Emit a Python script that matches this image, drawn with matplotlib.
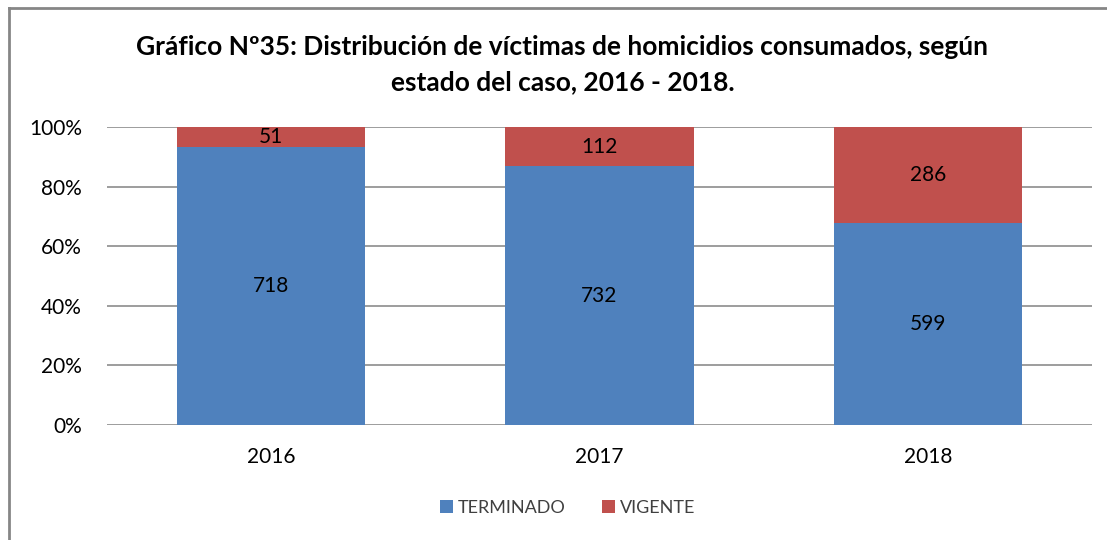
import matplotlib
matplotlib.use("Agg")
import matplotlib.pyplot as plt
import numpy as np

years = ["2016", "2017", "2018"]
terminado = [718, 732, 599]
vigente = [51, 112, 286]

plt.rcParams['font.family'] = ['Lato', 'DejaVu Sans']

tot = np.array(terminado) + np.array(vigente)
p_term = np.array(terminado) / tot * 100
p_vig = np.array(vigente) / tot * 100

fig = plt.figure(figsize=(11.07, 5.4), dpi=100)
ax = fig.add_axes([0.0967, 0.213, 0.8898, 0.552])

x = np.arange(len(years))
w = 0.573
b1 = ax.bar(x, p_term, w, color='#4F81BD', label='TERMINADO', zorder=3)
b2 = ax.bar(x, p_vig, w, bottom=p_term, color='#C0504D', label='VIGENTE', zorder=3)

for i in range(len(years)):
    ax.text(x[i], p_term[i] / 2, str(terminado[i]), ha='center', va='center',
            fontsize=15, color='black', zorder=4)
    ax.text(x[i], p_term[i] + p_vig[i] / 2, str(vigente[i]), ha='center', va='center',
            fontsize=15, color='black', zorder=4)

ax.set_xlim(-0.5, 2.5)
ax.set_ylim(0, 100)
ax.set_yticks(range(0, 101, 20))
ax.set_yticklabels([f"{v}%" for v in range(0, 101, 20)], fontsize=15)
ax.set_xticks(x)
ax.set_xticklabels(years, fontsize=15)
ax.tick_params(axis='y', length=0, pad=18)
ax.tick_params(axis='x', length=0, pad=16)
ax.yaxis.grid(True, color='#8c8c8c', linewidth=1.2, zorder=0)
for s in ax.spines.values():
    s.set_visible(False)

fig.text(0.508, 0.913, "Gráfico Nº35: Distribución de víctimas de homicidios consumados, según",
         ha='center', va='center', fontsize=19, fontweight='bold')
fig.text(0.508, 0.848, "estado del caso, 2016 - 2018.",
         ha='center', va='center', fontsize=19, fontweight='bold')

leg = fig.legend(handles=[b1, b2], loc='center', bbox_to_anchor=(0.513, 0.06), ncol=2,
                 frameon=False, fontsize=13, handlelength=0.7, handleheight=0.7,
                 handletextpad=0.3, columnspacing=2.0)
for t in leg.get_texts():
    t.set_color('#404040')

# chart border (top and left visible)
fig.add_artist(plt.Line2D([0.008, 1.0], [0.985, 0.985], color='#868686', lw=2, transform=fig.transFigure))
fig.add_artist(plt.Line2D([0.008, 0.008], [0.0, 0.985], color='#868686', lw=2, transform=fig.transFigure))

fig.savefig("out.png", dpi=100)
